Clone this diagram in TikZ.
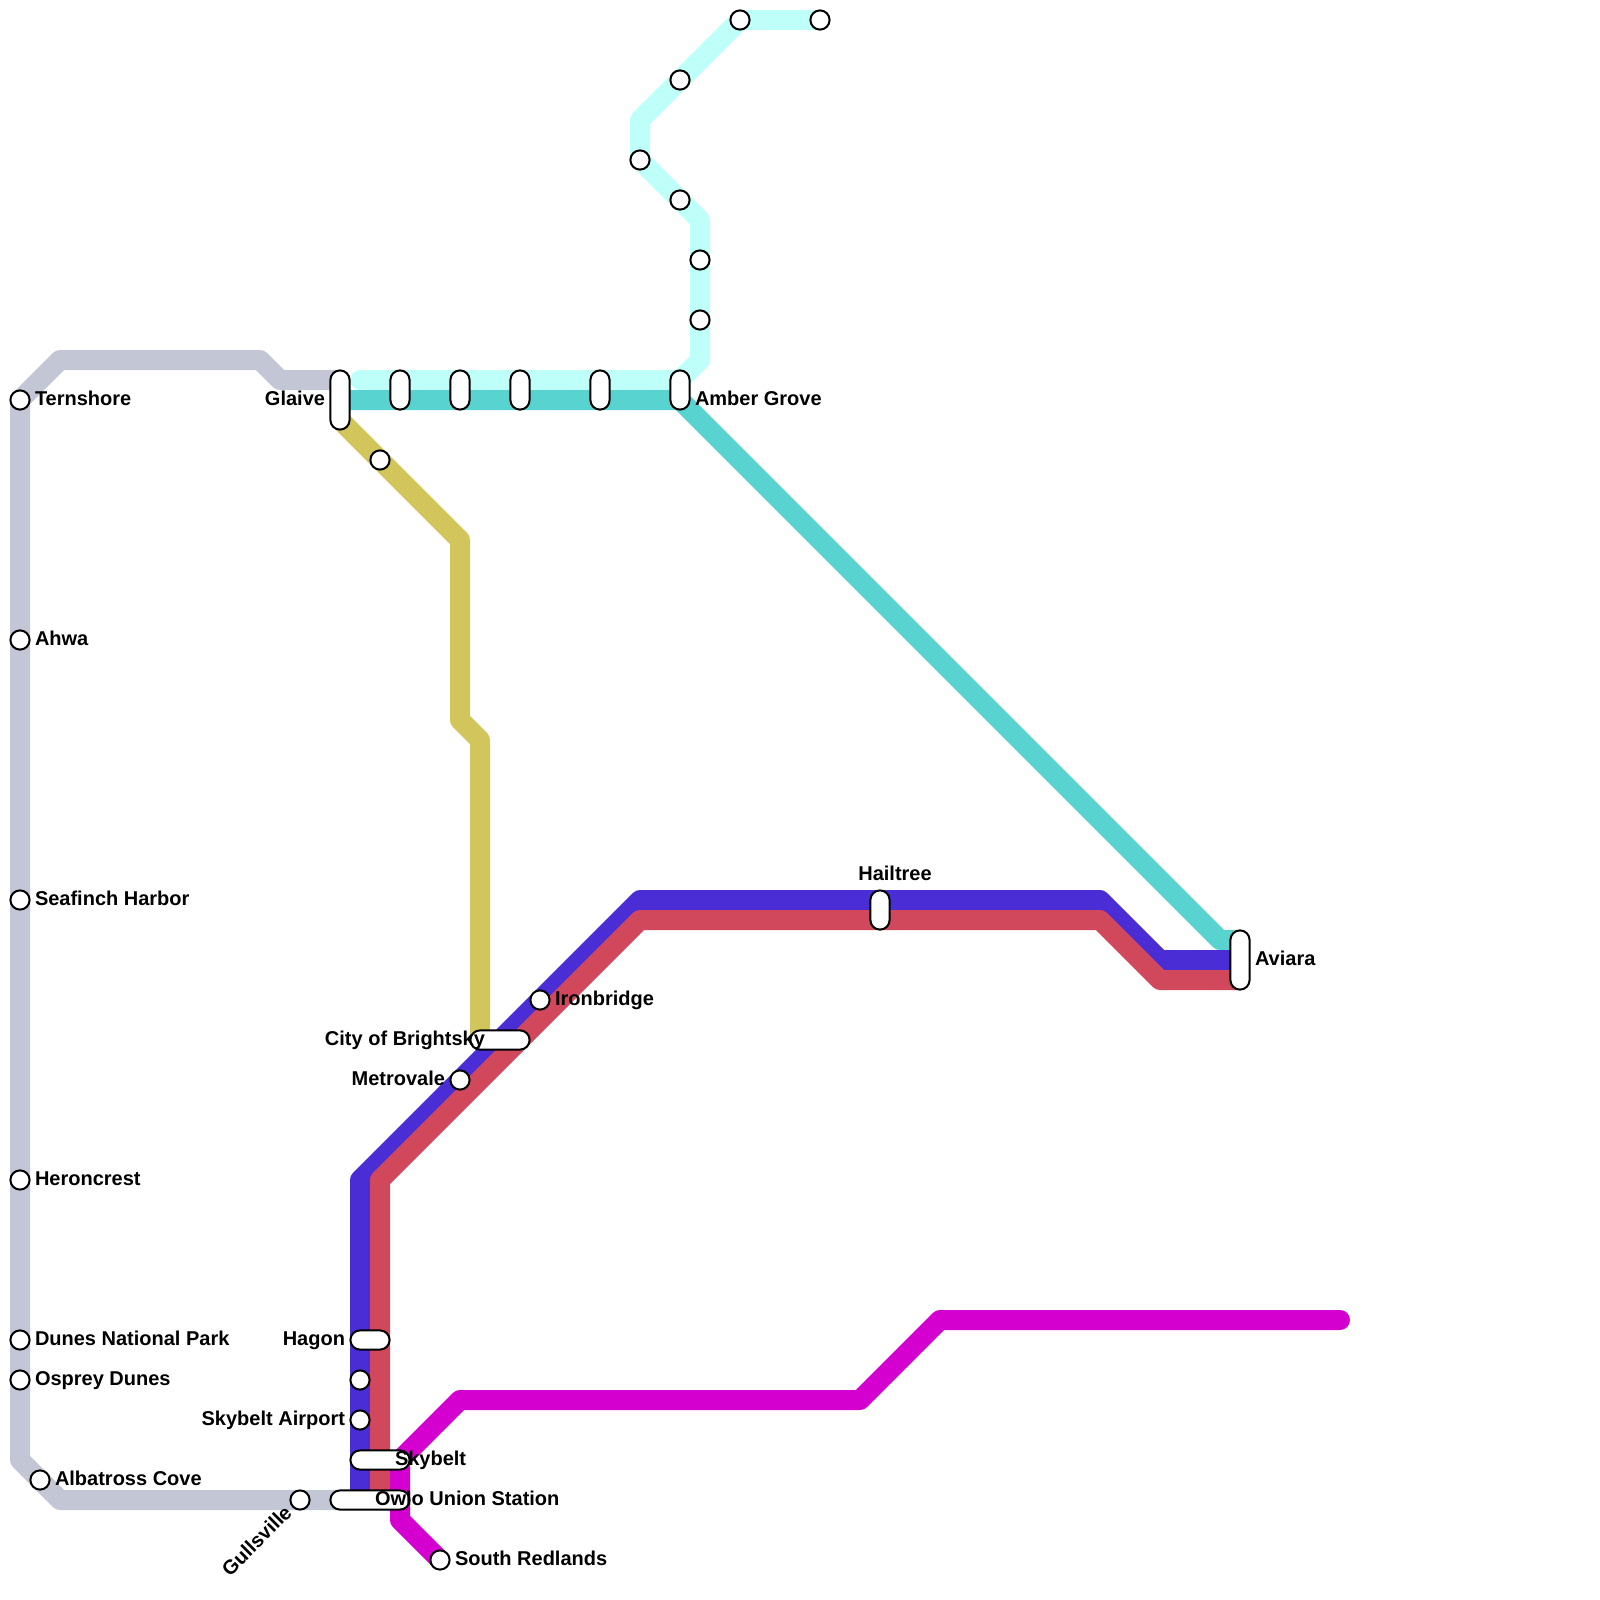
\documentclass[tikz,border=0pt]{standalone}
\usepackage{fontspec}
\setmainfont{Liberation Sans}
\definecolor{greyline}{HTML}{C3C6D5}
\definecolor{iceline}{HTML}{BFFFFA}
\definecolor{tealline}{HTML}{59D3CF}
\definecolor{blueline}{HTML}{4A2DD4}
\definecolor{redline}{HTML}{D1475C}
\definecolor{goldline}{HTML}{D2C55C}
\definecolor{pinkline}{HTML}{D400D0}
\tikzset{
    route/.style={line width=1cm, line join=round},
    stopdot/.style={circle, draw=black, fill=white, line width=0.1cm, minimum size=0.96cm, inner sep=0pt},
    pill/.style={rectangle, rounded corners=0.48cm, draw=black, fill=white, line width=0.1cm, minimum width=0.96cm, minimum height=0.96cm, inner sep=0pt},
    stopname/.style={inner sep=0pt, outer sep=0pt, font=\bfseries\fontsize{28.45}{34}\selectfont},
    namer/.style={stopname, anchor=base west, xshift=0.75cm, yshift=-0.25cm},
    namel/.style={stopname, anchor=base east, xshift=-0.75cm, yshift=-0.25cm}
}
\begin{document}
\begin{tikzpicture}[x=1cm, y=-1cm]
        \useasboundingbox (0,0) rectangle (80,80);

        % lines
        \draw[route, greyline] (17,19) -- (14,19) -- (13,18) -- (3,18) -- (1,20) -- (1,73) -- (3,75) -- (20,75);
        \draw[route, iceline, line cap=round] (18,19) -- (34,19) -- (35,18) -- (35,11) -- (32,8) -- (32,6) -- (37,1) -- (41,1);
        \draw[route, tealline] (17,20) -- (34,20) -- (61,47) -- (62,47);
        \draw[route, goldline] (17,21) -- (23,27) -- (23,36) -- (24,37) -- (24,52);
        \draw[route, blueline] (62,48) -- (58,48) -- (55,45) -- (32,45) -- (18,59) -- (18,75);
        \draw[route, redline] (62,49) -- (58,49) -- (55,46) -- (32,46) -- (19,59) -- (19,75);
        \draw[route, pinkline, line cap=round] (67,66) -- (47,66) -- (43,70) -- (23,70) -- (20,73) -- (20,76) -- (22,78);

        % stops, grey line
        \node[stopdot] (ternshore) at (1,20) {};
        \node[stopdot] (ahwa) at (1,32) {};
        \node[stopdot] (seafinch) at (1,45) {};
        \node[stopdot] (heroncrest) at (1,59) {};
        \node[stopdot] (dunes) at (1,67) {};
        \node[stopdot] (osprey) at (1,69) {};
        \node[stopdot] (albatross) at (2,74) {};
        \node[stopdot] (gullsville) at (15,75) {};

        % stops, ice line
        \node[stopdot] (icea) at (41,1) {};
        \node[stopdot] (iceb) at (37,1) {};
        \node[stopdot] (icec) at (34,4) {};
        \node[stopdot] (iced) at (32,8) {};
        \node[stopdot] (icee) at (34,10) {};
        \node[stopdot] (icef) at (35,13) {};
        \node[stopdot] (iceg) at (35,16) {};

        % stops, gold line
        \node[stopdot] (golda) at (19,23) {};

        % stops, blue and red
        \node[stopdot] (ironbridge) at (27,50) {};
        \node[stopdot] (metrovale) at (23,54) {};
        \node[stopdot] (bluea) at (18,69) {};
        \node[stopdot] (airport) at (18,71) {};
        \node[stopdot] (redlands) at (22,78) {};

        % long stops
        \node[pill, minimum height=2.96cm] (glaive) at (17,20) {};
        \node[pill, minimum height=1.96cm] (teala) at (20,19.5) {};
        \node[pill, minimum height=1.96cm] (tealb) at (23,19.5) {};
        \node[pill, minimum height=1.96cm] (tealc) at (26,19.5) {};
        \node[pill, minimum height=1.96cm] (teald) at (30,19.5) {};
        \node[pill, minimum height=1.96cm] (amber) at (34,19.5) {};
        \node[pill, minimum height=1.96cm] (hailtree) at (44,45.5) {};
        \node[pill, minimum height=2.96cm] (aviara) at (62,48) {};
        \node[pill, minimum width=2.96cm] (brightsky) at (25,52) {};
        \node[pill, minimum width=1.96cm] (hagon) at (18.5,67) {};
        \node[pill, minimum width=2.96cm] (skybelt) at (19,73) {};
        \node[pill, minimum width=3.96cm] (owlo) at (18.5,75) {};

        % names
        \node[namer] (ternshorename) at (ternshore) {Ternshore};
        \node[namer] (ahwaname) at (ahwa) {Ahwa};
        \node[namer] (seafinchname) at (seafinch) {Seafinch Harbor};
        \node[namer] (heroncrestname) at (heroncrest) {Heroncrest};
        \node[namer] (dunesname) at (dunes) {Dunes National Park};
        \node[namer] (ospreyname) at (osprey) {Osprey Dunes};
        \node[namer] (albatrossname) at (albatross) {Albatross Cove};
        \node[stopname, anchor=base east, rotate=45, xshift=-0.75cm, yshift=-0.25cm] (gullsvillename) at (gullsville) {Gullsville};
        \node[namel] (glaivename) at (glaive) {Glaive};
        \node[namer, yshift=-0.5cm] (ambername) at (amber) {Amber Grove};
        \node[stopname, anchor=base, xshift=0.75cm, yshift=1.5cm] (hailtreename) at (hailtree) {Hailtree};
        \node[namer] (avianame) at (aviara) {Aviara};
        \node[namer] (ironbridgename) at (ironbridge) {Ironbridge};
        \node[namel] (brightskyname) at (brightsky) {City of Brightsky};
        \node[namel] (metrovalename) at (metrovale) {Metrovale};
        \node[namel, xshift=-0.5cm] (hagonname) at (hagon) {Hagon};
        \node[namel] (airportname) at (airport) {Skybelt Airport};
        \node[namer] (skybeltname) at (skybelt) {Skybelt};
        \node[namer, xshift=-0.5cm] (owloname) at (owlo) {Owlo Union Station};
        \node[namer] (redlandsname) at (redlands) {South Redlands};
    \end{tikzpicture}
\end{document}
